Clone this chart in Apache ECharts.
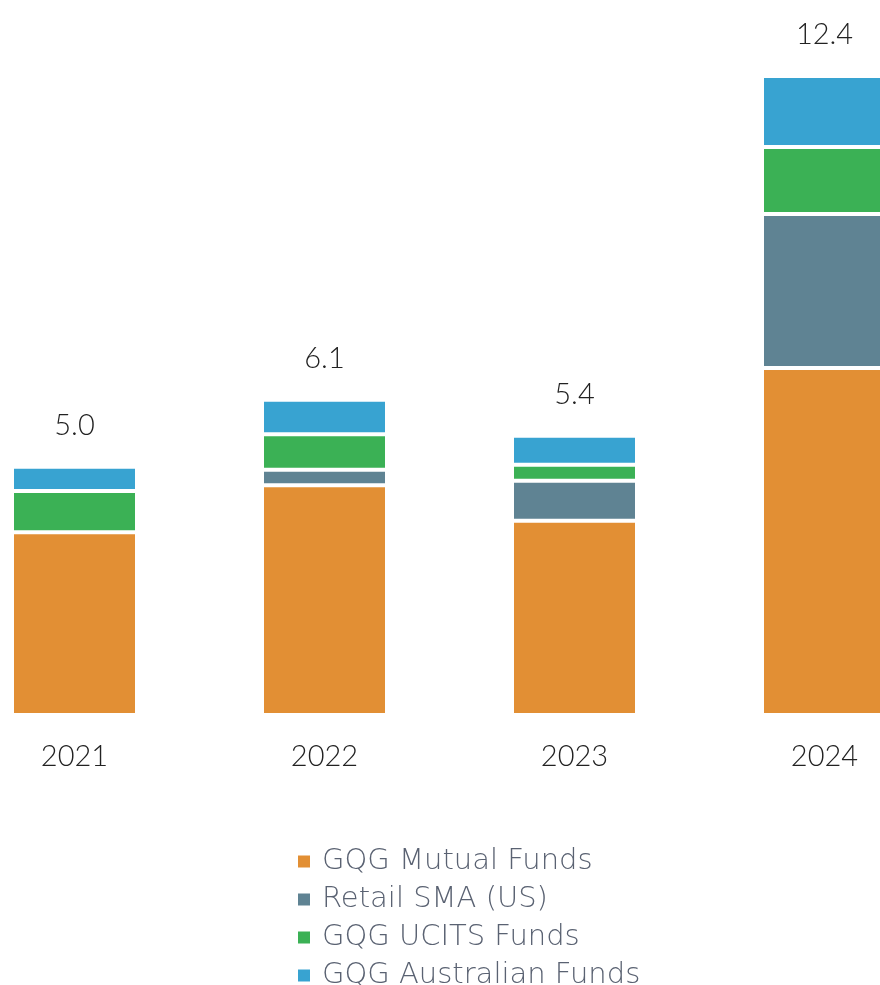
<!DOCTYPE html>
<html>
<head>
<meta charset="utf-8">
<script src="https://cdn.jsdelivr.net/npm/echarts@6/dist/echarts.min.js"></script>
<style>
  html, body { margin: 0; padding: 0; background: #fff; }
  #chart { width: 880px; height: 985px; }
</style>
</head>
<body>
<div id="chart"></div>
<script>
const years = ["2021", "2022", "2023", "2024"];
const mutualFunds = [3.55, 4.46, 3.77, 6.74];
const retailSma = [0, 0.30, 0.78, 2.99];
const ucitsFunds = [0.80, 0.69, 0.31, 1.30];
const australianFunds = [0.47, 0.67, 0.56, 1.38];
const totals = ["5.0", "6.1", "5.4", "12.4"];

const names = ["GQG Mutual Funds", "Retail SMA (US)", "GQG UCITS Funds", "GQG Australian Funds"];
const colors = ["#E28F34", "#5F8393", "#3BB155", "#38A3D1"];
const values = [mutualFunds, retailSma, ucitsFunds, australianFunds];

const numFont = "Lato, 'Noto Sans', sans-serif";
const legendFont = "'DejaVu Sans', sans-serif";

let chart = echarts.init(document.getElementById("chart"));

const series = values.map((data, i) => {
  const s = {
    name: names[i],
    type: "bar",
    stack: "total",
    barWidth: "50%",
    data: data,
    itemStyle: {
      color: colors[i],
      borderColor: "#fff",
      borderWidth: 2
    }
  };
  if (i === values.length - 1) {
    s.label = {
      show: true,
      position: "top",
      distance: 27,
      fontFamily: numFont,
      fontWeight: 300,
      fontSize: 29,
      color: "#222",
      formatter: p => totals[p.dataIndex]
    };
  }
  return s;
});

chart.setOption({
  backgroundColor: "#fff",
  animation: false,
  color: colors,
  grid: {
    left: -50.5,
    right: -69.5,
    top: 45.5,
    bottom: 270,
    outerBoundsMode: "none"
  },
  legend: {
    orient: "vertical",
    left: 296,
    top: 847,
    height: 200,
    padding: 0,
    icon: "rect",
    itemWidth: 14,
    itemHeight: 14,
    itemGap: 9,
    data: names,
    textStyle: {
      fontFamily: legendFont,
      fontWeight: 200,
      fontSize: 29,
      color: "#5a6272",
      padding: [0, 0, 0, 6]
    }
  },
  xAxis: {
    type: "category",
    data: years,
    axisLine: { show: false },
    axisTick: { show: false },
    axisLabel: {
      margin: 27,
      fontFamily: numFont,
      fontWeight: 300,
      fontSize: 29,
      color: "#222"
    }
  },
  yAxis: {
    type: "value",
    min: 0,
    max: 13,
    show: false,
    splitLine: { show: false }
  },
  series: series
});
</script>
</body>
</html>
